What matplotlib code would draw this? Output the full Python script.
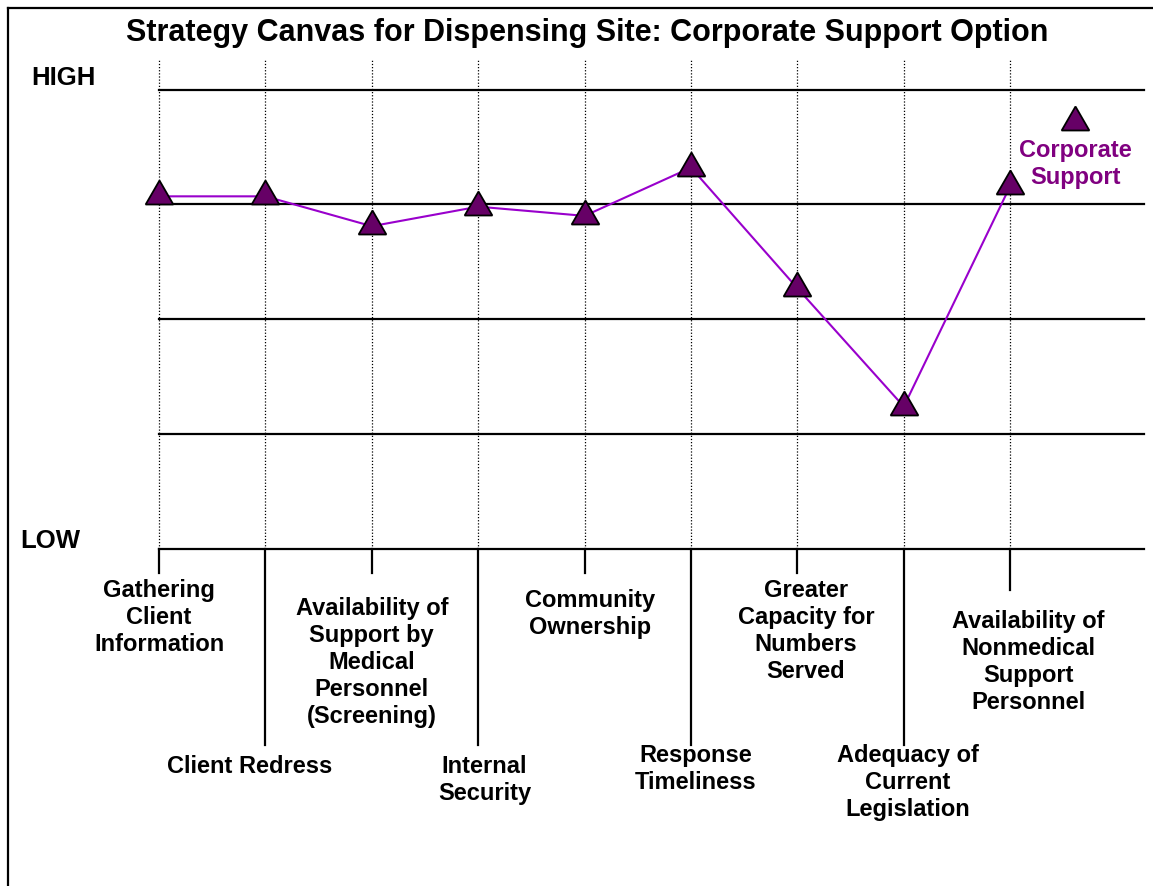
import matplotlib.pyplot as plt
from matplotlib.lines import Line2D

plt.rcParams['font.family'] = ['Liberation Sans', 'DejaVu Sans']
plt.rcParams['font.weight'] = 'bold'

factors = ["Gathering\nClient\nInformation", "Client Redress",
           "Availability of\nSupport by\nMedical\nPersonnel\n(Screening)",
           "Internal\nSecurity", "Community\nOwnership", "Response\nTimeliness",
           "Greater\nCapacity for\nNumbers\nServed", "Adequacy of\nCurrent\nLegislation",
           "Availability of\nNonmedical\nSupport\nPersonnel"]
corporate = [3.07, 3.07, 2.81, 2.98, 2.90, 3.32, 2.27, 1.24, 3.16]
levels = [0, 1, 2, 3, 4]

# label layout: (x shift, top y) in data units
label_dx = [0.0, -0.15, 0.0, 0.06, 0.05, 0.04, 0.08, 0.04, 0.17]
label_top = [-0.26, -1.79, -0.42, -1.79, -0.35, -1.7, -0.26, -1.7, -0.53]

W, H = 1153, 886
fig = plt.figure(figsize=(W / 100, H / 100), dpi=100)
x0, x1, ytop, ybot = 159, 1144, 89.5, 549
step = 106.4
ax = fig.add_axes([x0 / W, 1 - ybot / H, (x1 - x0) / W, (ybot - ytop) / H])
ax.set_xlim(0, (x1 - x0) / step)
ax.set_ylim(0, 4)
ax.axis('off')

for lv in levels:
    ax.axhline(lv, color='black', lw=1.6, zorder=1, clip_on=False)

xs = list(range(len(factors)))
for i in xs:
    ax.plot([i, i], [0, 4.26], color='black', lw=0.9, ls=(0, (1, 1.5)), clip_on=False, zorder=1)
    depth = -1.71 if i % 2 == 1 else (-0.36 if i == len(factors) - 1 else -0.21)
    ax.plot([i, i], [0, depth], color='black', lw=1.6, clip_on=False, zorder=1)
    ax.text(i + label_dx[i], label_top[i], factors[i], ha='center', va='top',
            fontsize=17, fontweight='bold', linespacing=1.22, clip_on=False)

ax.plot(xs, corporate, color='#9900CC', lw=1.5, zorder=3, clip_on=False)
ax.plot(xs, corporate, ls='none', marker=(3, 0, 0), ms=23, mfc='#660066',
        mec='black', mew=1.3, zorder=4, clip_on=False)

# legend
ax.plot([8.61], [3.72], ls='none', marker=(3, 0, 0), ms=23, mfc='#660066',
        mec='black', mew=1.3, clip_on=False)
ax.text(8.61, 3.57, "Corporate\nSupport", ha='center', va='top', fontsize=17,
        fontweight='bold', color='#800080', linespacing=1.22)

fig.text(587 / W, 1 - 33 / H, "Strategy Canvas for Dispensing Site: Corporate Support Option",
         ha='center', va='center', fontsize=22, fontweight='bold')
fig.text(31 / W, 1 - 78 / H, "HIGH", ha='left', va='center', fontsize=18.5, fontweight='bold')
fig.text(20 / W, 1 - 541 / H, "LOW", ha='left', va='center', fontsize=18.5, fontweight='bold')

# frame (left and top edges visible)
fig.add_artist(Line2D([7.5 / W, 7.5 / W], [0, 1 - 7.5 / H], color='black', lw=1.6))
fig.add_artist(Line2D([7.5 / W, 1], [1 - 7.5 / H, 1 - 7.5 / H], color='black', lw=1.6))

fig.savefig('out.png', dpi=100)
